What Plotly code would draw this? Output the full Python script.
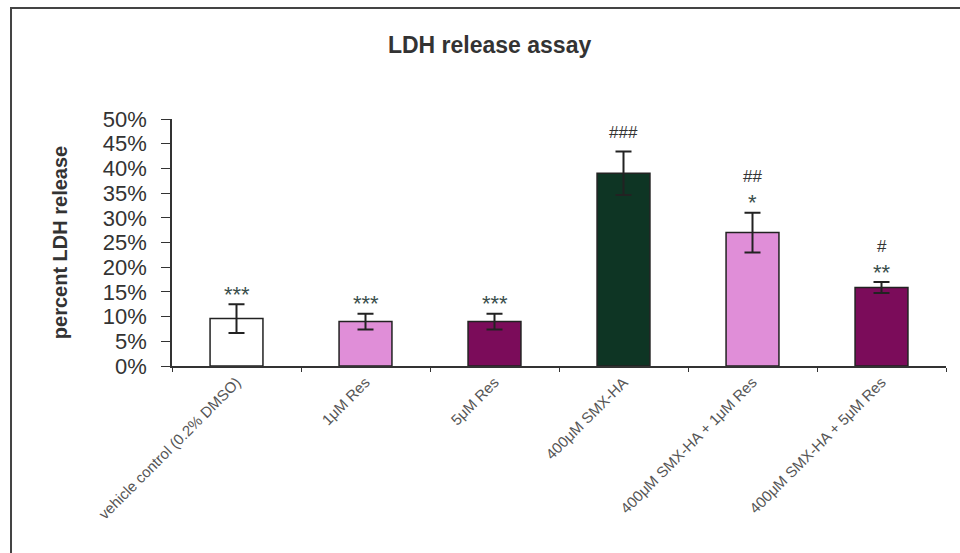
import plotly.graph_objects as go

# LDH release per treatment group (percent) with SEM
categories = [
    "vehicle control (0.2% DMSO)",
    "1μM Res",
    "5μM Res",
    "400μM SMX-HA",
    "400μM SMX-HA + 1μM Res",
    "400μM SMX-HA + 5μM Res",
]
ldh_release = [9.6, 9.0, 9.0, 39.0, 27.0, 15.9]
ldh_error = [2.9, 1.6, 1.6, 4.4, 4.0, 1.1]
# significance markers: vs SMX-HA (stars) and vs vehicle (hashes)
star_marks = ["***", "***", "***", "", "*", "**"]
hash_marks = ["", "", "", "###", "##", "#"]

bar_colors = ["#ffffff", "#e08ed8", "#7b0c5a", "#0e3524", "#e08ed8", "#7b0c5a"]

fig = go.Figure()
fig.add_trace(go.Bar(
    x=categories,
    y=ldh_release,
    marker=dict(color=bar_colors, line=dict(color="#222222", width=1.5)),
    error_y=dict(type="data", array=ldh_error, visible=True,
                 color="#222222", thickness=2, width=8),
    width=0.41,
    showlegend=False,
    hoverinfo="x+y",
))

for cat, val, err, s, h in zip(categories, ldh_release, ldh_error, star_marks, hash_marks):
    top = val + err
    if s:
        fig.add_annotation(x=cat, y=top, text=s, showarrow=False,
                           yshift=10, font=dict(family="Arial", size=22, color="#3a4e4c"))
    if h:
        fig.add_annotation(x=cat, y=top, text=h, showarrow=False,
                           yshift=36 if s else 19,
                           font=dict(family="Arial", size=17, color="#333333"))

# outer frame of the chart
fig.add_shape(type="rect", xref="paper", yref="paper",
              x0=-0.208, x1=1.05, y0=-0.9, y1=1.449,
              line=dict(color="#444444", width=2), fillcolor="rgba(0,0,0,0)", layer="below")

fig.update_layout(
    width=960, height=553,
    margin=dict(l=172, r=14, t=119, b=187),
    paper_bgcolor="white", plot_bgcolor="white",
    title=dict(text="<b>LDH release assay</b>", x=0.51, xanchor="center",
               y=0.918, yanchor="middle",
               font=dict(family="Arial", size=23, color="#333333")),
    font=dict(family="Arial"),
    xaxis=dict(
        type="category", showline=True, linecolor="#333333", linewidth=1.5,
        ticks="outside", tickson="boundaries", ticklen=4, tickcolor="#333333",
        tickangle=-45, tickfont=dict(family="Arial", size=15, color="#555555"),
        showgrid=False, zeroline=False,
    ),
    yaxis=dict(
        range=[0, 50], dtick=5, ticksuffix="%",
        showline=True, linecolor="#333333", linewidth=1.5,
        ticks="outside", ticklen=9, tickcolor="#333333",
        tickfont=dict(family="Arial", size=22, color="#333333"),
        ticklabelstandoff=10,
        showgrid=False, zeroline=False,
        title=dict(text="<b>percent LDH release</b>", standoff=30,
                   font=dict(family="Arial", size=20, color="#333333")),
    ),
)

fig.write_html("out.html")
